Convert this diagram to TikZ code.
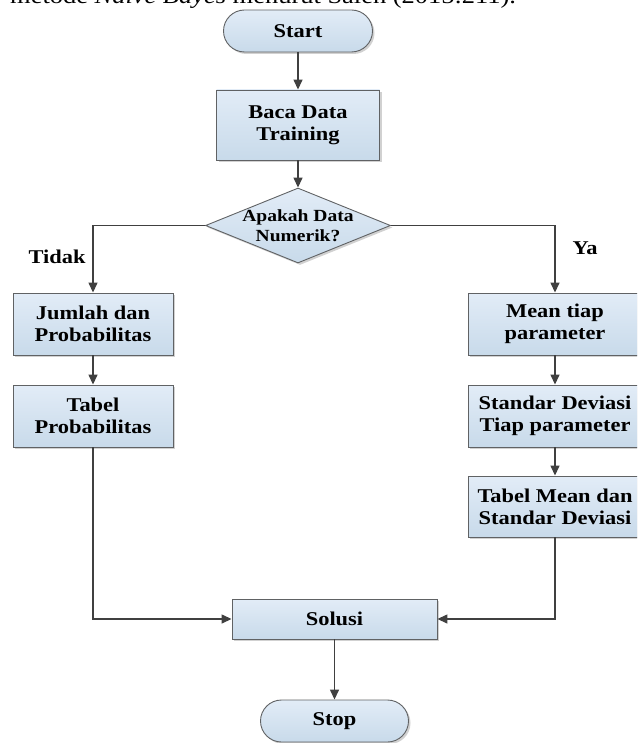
\documentclass[tikz,border=0pt]{standalone}
\usepackage{fontspec}
\setmainfont{Liberation Serif}[FakeStretch=1.15]
\usetikzlibrary{shapes.geometric,arrows.meta,shadows}
\definecolor{boxtop}{HTML}{E2ECF7}
\definecolor{boxbot}{HTML}{C8DAEA}
\definecolor{edgecol}{HTML}{606264}
\definecolor{linecol}{HTML}{404040}
\begin{document}
\begin{tikzpicture}[x=1pt,y=-1pt,
  base/.style={draw=edgecol, line width=0.9pt, top color=boxtop, bottom color=boxbot,
    inner sep=0pt, align=center, font=\bfseries\fontsize{19.5}{22}\selectfont,
    drop shadow={shadow xshift=2pt, shadow yshift=-2pt, fill=black!30, opacity=0.6}},
  proc/.style={base, rectangle, minimum width=#1, minimum height=62pt},
  term/.style={base, rectangle, rounded corners=21pt, minimum height=42pt, minimum width=#1},
  decis/.style={base, diamond, minimum width=185pt, minimum height=75pt},
  lbl/.style={inner sep=0pt, font=\bfseries\fontsize{19.5}{22}\selectfont},
  flow/.style={draw=linecol, line width=1.4pt, -{Triangle[length=10pt,width=9pt]}}]
\useasboundingbox (0,0) rectangle (637,743);
\clip (0,0) rectangle (637,743);

\node[anchor=base west, inner sep=0pt, font=\fontsize{23}{26}\selectfont] (cap) at (10,4)
  {metode \textit{Naive Bayes} menurut Saleh (2015:211).};

\node[term=149pt] (start) at (298,31) {Start};
\node[proc=163pt, minimum height=70pt] (baca) at (298,125) {Baca Data\\Training};
\node[decis] (dia) at (298,225.5) {};
\node[inner sep=0pt, align=center, font=\bfseries\fontsize{17}{20}\selectfont] (diatext) at (298,226) {Apakah Data\\Numerik?};

\node[proc=160pt] (jumlah) at (93,324) {Jumlah dan\\Probabilitas};
\node[proc=160pt] (tabprob) at (93,416) {Tabel\\Probabilitas};

\node[proc=174pt] (mean) at (555,324) {Mean tiap\\parameter};
\node[proc=174pt] (stdev) at (555,416) {Standar Deviasi\\Tiap parameter};
\node[proc=174pt, minimum height=61pt] (tabmean) at (555,506.5) {Tabel Mean dan\\Standar Deviasi};

\node[proc=205pt, minimum height=40pt] (solusi) at (334.5,619) {Solusi};
\node[term=148pt] (stop) at (334.5,721) {Stop};

\node[lbl] (tidak) at (57,257) {Tidak};
\node[lbl] (ya) at (585,248) {Ya};

\draw[flow] (start) -- (baca);
\draw[flow] (baca) -- (dia);
\draw[flow] (dia.west) -| (jumlah.north);
\draw[flow] (dia.east) -| (mean.north);
\draw[flow] (jumlah) -- (tabprob);
\draw[flow] (mean) -- (stdev);
\draw[flow] (stdev) -- (tabmean);
\draw[flow] (tabprob.south) |- (solusi.west);
\draw[flow] (tabmean.south) |- (solusi.east);
\draw[flow] (solusi) -- (stop);
\end{tikzpicture}
\end{document}
